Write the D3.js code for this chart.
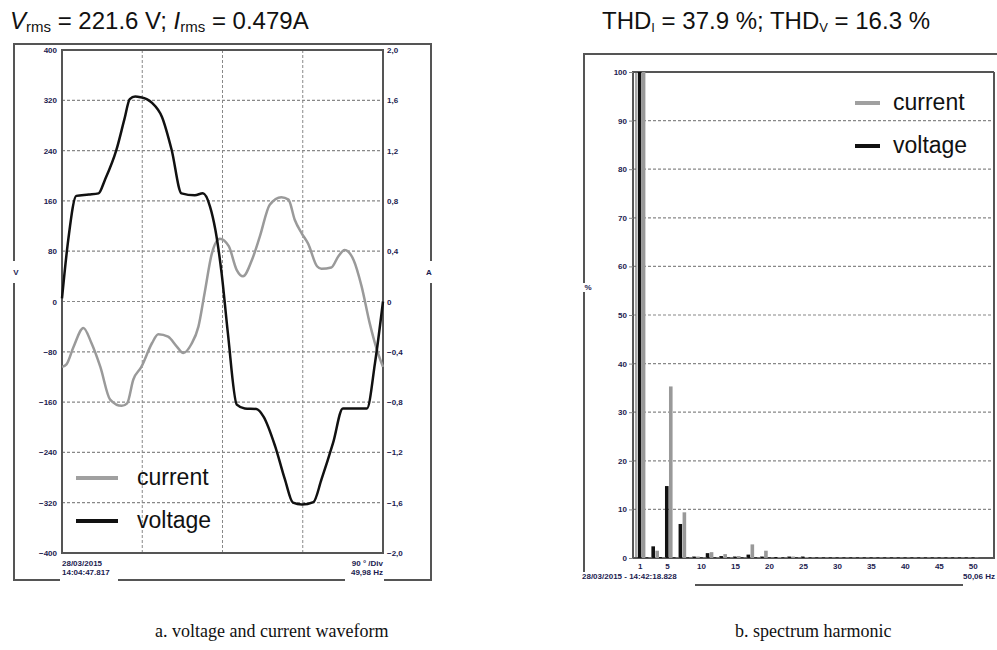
<!DOCTYPE html>
<html>
<head>
<meta charset="utf-8">
<script src="https://cdn.jsdelivr.net/npm/d3@7"></script>
<style>
  body { margin: 0; background: #fff; }
  svg { display: block; font-family: "Liberation Sans", Arial, sans-serif; }
  .tick text { font-size: 8px; font-weight: bold; fill: #1c1c50; }
  .small { font-size: 8px; font-weight: bold; fill: #1c1c50; }
</style>
</head>
<body>
<svg id="chart" width="997" height="650"></svg>
<script>
// waveform (degrees of one period)
const voltAngle = [0, 7, 16, 30, 41, 48, 61, 70, 76, 82, 88, 95, 101, 112, 123, 134, 149, 158, 166, 172, 179, 186, 196, 205, 218, 226, 239, 250, 259, 269, 282, 291, 304, 315, 329, 342, 351, 360];
const voltValue = [5, 98, 168, 170, 172, 193, 241, 290, 322, 326, 325, 322, 316, 294, 241, 172, 169, 172, 151, 114, 45, -50, -164, -170, -171, -183, -230, -283, -320, -323, -319, -283, -225, -170, -170, -170, -98, 0];

const currAngle = [0, 5, 13, 24, 33, 43, 54, 67, 73, 80, 89, 101, 108, 119, 129, 136, 145, 153, 160, 168, 177, 187, 196, 203, 213, 222, 233, 246, 254, 261, 269, 276, 286, 291, 302, 310, 317, 327, 336, 345, 353, 360];
const currValue = [-0.52, -0.50, -0.36, -0.21, -0.33, -0.52, -0.78, -0.83, -0.81, -0.62, -0.52, -0.33, -0.26, -0.28, -0.36, -0.41, -0.34, -0.20, 0.07, 0.38, 0.50, 0.44, 0.25, 0.20, 0.33, 0.52, 0.77, 0.83, 0.81, 0.65, 0.54, 0.46, 0.28, 0.26, 0.27, 0.36, 0.41, 0.33, 0.12, -0.17, -0.38, -0.52];

const voltTicks = [-400, -320, -240, -160, -80, 0, 80, 160, 240, 320, 400];
const currTicks = [-2.0, -1.6, -1.2, -0.8, -0.4, 0, 0.4, 0.8, 1.2, 1.6, 2.0];
const angleGrid = [90, 180, 270];

// harmonic spectrum (% of fundamental)
const harmonics = d3.range(1, 51);
const voltHarm = [100, 0.1, 2.4, 0.2, 14.8, 0.1, 7.0, 0.1, 0.3, 0.1, 1.0, 0.1, 0.4, 0.1, 0.3, 0.1, 0.7, 0.1, 0.3, 0.1, 0.2, 0.1, 0.3, 0.1, 0.3,
  0.1, 0.1, 0.1, 0.1, 0.1, 0.1, 0.1, 0.1, 0.1, 0.1, 0.1, 0.1, 0.1, 0.1, 0.1, 0.1, 0.1, 0.1, 0.1, 0.1, 0.1, 0.1, 0.1, 0.1, 0.1];
const currHarm = [100, 0.1, 1.5, 0.1, 35.3, 0.1, 9.4, 0.1, 0.3, 0.1, 1.2, 0.1, 0.8, 0.1, 0.4, 0.1, 2.8, 0.1, 1.5, 0.1, 0.2, 0.1, 0.3, 0.1, 0.2,
  0.1, 0.1, 0.1, 0.1, 0.1, 0.1, 0.1, 0.1, 0.1, 0.1, 0.1, 0.1, 0.1, 0.1, 0.1, 0.1, 0.1, 0.1, 0.1, 0.1, 0.1, 0.1, 0.1, 0.1, 0.1];
const pctTicks = [0, 10, 20, 30, 40, 50, 60, 70, 80, 90, 100];
const harmTicks = [1, 5, 10, 15, 20, 25, 30, 35, 40, 45, 50];

const svg = d3.select("#chart");
const comma = d => d === 0 ? "0" : d3.format(".1f")(d).replace(".", ",");
const frameCol = "#555";
const gridCol = "#888";

// ---------- left: waveform ----------
const x = d3.scaleLinear().domain([0, 360]).range([62, 383]);
const yV = d3.scaleLinear().domain([-400, 400]).range([553, 50]);
const yI = d3.scaleLinear().domain([-2, 2]).range([553, 50]);

const left = svg.append("g");

// outer frame with gaps for labels
const outerL = [
  [[14, 272 - 11], [14, 44], [431, 44], [431, 272 - 11]],
  [[14, 272 + 11], [14, 580], [60, 580]],
  [[118, 580], [345, 580]],
  [[384, 580], [431, 580], [431, 272 + 11]]
];
outerL.forEach(p => left.append("path").attr("d", d3.line()(p))
  .attr("fill", "none").attr("stroke", frameCol).attr("stroke-width", 2));
left.append("text").attr("class", "small").attr("x", 16).attr("y", 275).attr("text-anchor", "middle").text("V");
left.append("text").attr("class", "small").attr("x", 429).attr("y", 275).attr("text-anchor", "middle").text("A");

// grid
left.selectAll(".hg").data(voltTicks.slice(1, -1)).enter().append("line")
  .attr("x1", x(0)).attr("x2", x(360)).attr("y1", d => yV(d)).attr("y2", d => yV(d))
  .attr("stroke", gridCol).attr("stroke-width", 1.2).attr("stroke-dasharray", "3,2");
left.selectAll(".vg").data(angleGrid).enter().append("line")
  .attr("y1", yV(400)).attr("y2", yV(-400)).attr("x1", d => x(d)).attr("x2", d => x(d))
  .attr("stroke", gridCol).attr("stroke-width", 1).attr("stroke-dasharray", "3,2");

left.append("rect").attr("x", x(0)).attr("y", yV(400))
  .attr("width", x(360) - x(0)).attr("height", yV(-400) - yV(400))
  .attr("fill", "none").attr("stroke", frameCol).attr("stroke-width", 2);

left.append("g").attr("transform", `translate(${x(0) - 2},0)`)
  .call(d3.axisLeft(yV).tickValues(voltTicks).tickSize(0).tickFormat(d3.format("d")))
  .call(g => g.select(".domain").remove());
left.append("g").attr("transform", `translate(${x(360) + 1},0)`)
  .call(d3.axisRight(yI).tickValues(currTicks).tickSize(0).tickFormat(comma))
  .call(g => g.select(".domain").remove());

const lineV = d3.line().x(d => x(d[0])).y(d => yV(d[1])).curve(d3.curveMonotoneX);
const lineI = d3.line().x(d => x(d[0])).y(d => yI(d[1])).curve(d3.curveMonotoneX);
left.append("path").datum(d3.zip(currAngle, currValue)).attr("d", lineI)
  .attr("fill", "none").attr("stroke", "#9a9a9a").attr("stroke-width", 2.5);
left.append("path").datum(d3.zip(voltAngle, voltValue)).attr("d", lineV)
  .attr("fill", "none").attr("stroke", "#111").attr("stroke-width", 2.5);

// legend
[["current", "#a0a0a0", 478], ["voltage", "#111", 521]].forEach(([t, c, yy]) => {
  left.append("line").attr("x1", 76).attr("x2", 118).attr("y1", yy).attr("y2", yy)
    .attr("stroke", c).attr("stroke-width", 4);
  left.append("text").attr("x", 137).attr("y", yy + 7).attr("font-size", 23).attr("fill", "#111").text(t);
});

left.append("text").attr("class", "small").attr("x", 62).attr("y", 566).text("28/03/2015");
left.append("text").attr("class", "small").attr("x", 62).attr("y", 575).text("14:04:47.817");
left.append("text").attr("class", "small").attr("x", 383).attr("y", 566).attr("text-anchor", "end").text("90 ° /Div");
left.append("text").attr("class", "small").attr("x", 383).attr("y", 575).attr("text-anchor", "end").text("49,98 Hz");

// title
const t1 = left.append("text").attr("x", 10).attr("y", 29).attr("font-size", 24).attr("fill", "#111");
t1.append("tspan").attr("font-style", "italic").text("V");
t1.append("tspan").attr("font-size", 15).attr("dy", 3).text("rms");
t1.append("tspan").attr("dy", -3).text(" = 221.6 V; ");
t1.append("tspan").attr("font-style", "italic").text("I");
t1.append("tspan").attr("font-size", 15).attr("dy", 3).text("rms");
t1.append("tspan").attr("dy", -3).text(" = 0.479A");

// ---------- right: spectrum ----------
const xh = d3.scaleLinear().domain([0, 54]).range([633, 1000]);
const yp = d3.scaleLinear().domain([0, 100]).range([558, 72]);
const right = svg.append("g");

const outerR = [
  [[584, 283], [584, 54], [1000, 54]],
  [[584, 292], [584, 572]],
  [[695, 585], [963, 585]]
];
outerR.forEach(p => right.append("path").attr("d", d3.line()(p))
  .attr("fill", "none").attr("stroke", frameCol).attr("stroke-width", 2));
right.append("text").attr("class", "small").attr("x", 588).attr("y", 290).attr("text-anchor", "middle").text("%");

right.selectAll(".hg").data(pctTicks.slice(1, -1)).enter().append("line")
  .attr("x1", xh(0)).attr("x2", 994).attr("y1", d => yp(d)).attr("y2", d => yp(d))
  .attr("stroke", gridCol).attr("stroke-width", 1.2).attr("stroke-dasharray", "3,2");

right.append("path").attr("d", d3.line()([[994, yp(100)], [xh(0), yp(100)], [xh(0), yp(0)], [994, yp(0)], [994, yp(100)]]))
  .attr("fill", "none").attr("stroke", frameCol).attr("stroke-width", 2);
right.append("line").attr("x1", xh(0) + 3).attr("x2", xh(0) + 3).attr("y1", yp(100)).attr("y2", yp(0))
  .attr("stroke", frameCol).attr("stroke-width", 1);

right.append("g").attr("transform", `translate(${xh(0)},0)`)
  .call(d3.axisLeft(yp).tickValues(pctTicks).tickSize(4).tickPadding(2).tickFormat(d3.format("d")))
  .call(g => g.select(".domain").remove())
  .call(g => g.selectAll("line").attr("stroke", gridCol));
right.append("g").attr("transform", `translate(0,${yp(0) + 1})`)
  .call(d3.axisBottom(xh).tickValues(harmTicks).tickSize(0).tickPadding(4).tickFormat(d3.format("d")))
  .call(g => g.select(".domain").remove());

right.selectAll(".bv").data(harmonics).enter().append("rect")
  .attr("x", d => xh(d) - 2).attr("width", 3.6)
  .attr("y", (d, i) => yp(voltHarm[i])).attr("height", (d, i) => yp(0) - yp(voltHarm[i]))
  .attr("fill", "#111");
right.selectAll(".bc").data(harmonics).enter().append("rect")
  .attr("x", d => xh(d) + 2).attr("width", 3.6)
  .attr("y", (d, i) => yp(currHarm[i])).attr("height", (d, i) => yp(0) - yp(currHarm[i]))
  .attr("fill", "#999");

[["current", "#a0a0a0", 103], ["voltage", "#111", 146]].forEach(([t, c, yy]) => {
  right.append("line").attr("x1", 855).attr("x2", 880).attr("y1", yy).attr("y2", yy)
    .attr("stroke", c).attr("stroke-width", 4);
  right.append("text").attr("x", 893).attr("y", yy + 7).attr("font-size", 23).attr("fill", "#111").text(t);
});

right.append("text").attr("class", "small").attr("x", 582).attr("y", 579).text("28/03/2015 - 14:42:18.828");
right.append("text").attr("class", "small").attr("x", 963).attr("y", 579).text("50,06 Hz");

const t2 = right.append("text").attr("x", 602).attr("y", 29).attr("font-size", 24).attr("fill", "#111");
t2.append("tspan").text("THD");
t2.append("tspan").attr("font-size", 13).attr("dy", 3).text("I");
t2.append("tspan").attr("dy", -3).text(" = 37.9 %; THD");
t2.append("tspan").attr("font-size", 13).attr("dy", 3).text("V");
t2.append("tspan").attr("dy", -3).text(" = 16.3 %");

// captions
svg.append("text").attr("x", 155).attr("y", 637).attr("font-family", "Liberation Serif, Times New Roman, serif")
  .attr("font-size", 18).attr("fill", "#111").text("a. voltage and current waveform");
svg.append("text").attr("x", 735).attr("y", 637).attr("font-family", "Liberation Serif, Times New Roman, serif")
  .attr("font-size", 18).attr("fill", "#111").text("b. spectrum harmonic");
</script>
</body>
</html>
